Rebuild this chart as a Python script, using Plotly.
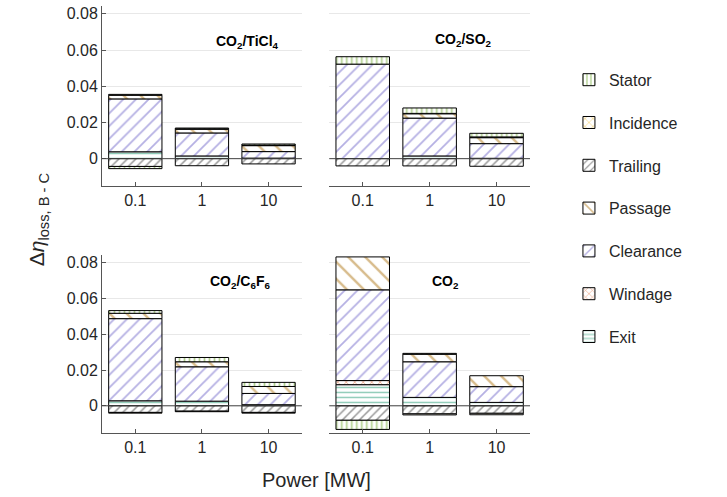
import plotly.graph_objects as go

# ---------------- data ----------------
fluids = ["CO<sub>2</sub>/TiCl<sub>4</sub>", "CO<sub>2</sub>/SO<sub>2</sub>",
          "CO<sub>2</sub>/C<sub>6</sub>F<sub>6</sub>", "CO<sub>2</sub>"]
powers = ["0.1", "1", "10"]

# loss components, one list per fluid (order of fluids above), values per power
exit_loss      = [[0.0038, 0.0015, 0.0003], [0.0, 0.0015, 0.0002],
                  [0.0028, 0.0026, 0.0006], [0.0118, 0.0047, 0.0019]]
windage_loss   = [[0.0, 0.0, 0.0], [0.0, 0.0, 0.0],
                  [0.0, 0.0, 0.0], [0.0023, 0.0, 0.0]]
clearance_loss = [[0.0292, 0.0127, 0.0036], [0.0522, 0.0209, 0.0081],
                  [0.0459, 0.0192, 0.0063], [0.0507, 0.0199, 0.0088]]
passage_loss   = [[0.0020, 0.0021, 0.0033], [0.0, 0.0024, 0.0033],
                  [0.0030, 0.0028, 0.0039], [0.0184, 0.0042, 0.0061]]
trailing_loss  = [[-0.0043, -0.0039, -0.0029], [-0.0040, -0.0040, -0.0042],
                  [-0.0037, -0.0030, -0.0037], [-0.0081, -0.0045, -0.0042]]
incidence_loss = [[0.0005, 0.0002, 0.0003], [0.0, 0.0002, 0.0004],
                  [-0.0004, -0.0003, -0.0004], [0.0, -0.0006, -0.0008]]
stator_loss    = [[-0.0012, 0.0004, 0.0006], [0.0041, 0.0030, 0.0020],
                  [0.0015, 0.0024, 0.0023], [-0.0051, 0.0005, 0.0]]

# stacking order (bottom -> top); legend shows reversed order
components = ["Exit", "Windage", "Clearance", "Passage", "Trailing", "Incidence", "Stator"]
comp_values = [exit_loss, windage_loss, clearance_loss, passage_loss,
               trailing_loss, incidence_loss, stator_loss]
comp_colors = ["#1f9a72", "#d95319", "#6c62c8", "#b07818", "#333333", "#e8a800", "#6aa527"]
comp_shapes = ["-", "x", "/", "\\", "/", "x", "|"]
comp_sizes = [5, 6, 9, 12, 6, 7, 5]
comp_solid = [0.3, 0.25, 0.2, 0.2, 0.25, 0.22, 0.35]

yticks = [0, 0.02, 0.04, 0.06, 0.08]
ytick_text = ["0", "0.02", "0.04", "0.06", "0.08"]

# ---------------- figure ----------------
FONT = "Liberation Sans, Arial, Helvetica, sans-serif"
TXT = "#262626"
fig = go.Figure()

xdomains = [[0.0, 0.467], [0.531, 1.0]]
ydomains = [[0.578, 1.0], [0.0, 0.417]]
positions = [(0, 0), (0, 1), (1, 0), (1, 1)]

for k, (r, c) in enumerate(positions):
    ax = "" if k == 0 else str(k + 1)
    for ci, name in enumerate(components):
        vals = [v if v != 0 else None for v in comp_values[ci][k]]
        fig.add_trace(go.Bar(
            x=powers, y=vals, name=name,
            xaxis="x" + ax, yaxis="y" + ax,
            legendgroup=name, showlegend=(k == 0),
            legendrank=len(components) - ci,
            width=0.8,
            marker=dict(color="white",
                        line=dict(color="black", width=1),
                        pattern=dict(shape=comp_shapes[ci], fgcolor=comp_colors[ci],
                                     bgcolor="white", size=comp_sizes[ci],
                                     solidity=comp_solid[ci])),
            hoverinfo="skip",
        ))
    xa = dict(domain=xdomains[c], anchor="y" + ax, type="category",
              range=[-0.5, 2.5], showline=True, linecolor="#555555", linewidth=1,
              ticks="inside", ticklen=4, tickcolor="#555555",
              tickfont=dict(size=16, color=TXT, family=FONT),
              showgrid=False, zeroline=False, fixedrange=True, automargin=False)
    ya = dict(domain=ydomains[r], anchor="x" + ax, range=[-0.0152, 0.0843],
              tickvals=yticks, ticktext=ytick_text,
              showgrid=True, gridcolor="#e8e8e8", gridwidth=1,
              zeroline=False, fixedrange=True, automargin=False,
              tickfont=dict(size=16, color=TXT, family=FONT))
    if c == 0:
        ya.update(showline=True, linecolor="#555555", linewidth=1,
                  ticks="inside", ticklen=4, tickcolor="#555555", showticklabels=True)
    else:
        ya.update(showline=False, ticks="", showticklabels=False)
    fig.layout["xaxis" + ax] = xa
    fig.layout["yaxis" + ax] = ya
    # zero reference line drawn over the bars
    fig.add_shape(type="line", xref="x" + ax + " domain", yref="y" + ax,
                  x0=0, x1=1, y0=0, y1=0, layer="above",
                  line=dict(color="#444444", width=1))

# subplot labels
label_pos = [(0.73, 0.80), (0.667, 0.81), (0.69, 0.85), (0.577, 0.85)]
for k, lab in enumerate(fluids):
    ax = "" if k == 0 else str(k + 1)
    fig.add_annotation(text="<b>" + lab + "</b>", xref="x" + ax + " domain",
                       yref="y" + ax + " domain", x=label_pos[k][0], y=label_pos[k][1],
                       xanchor="center", yanchor="middle",
                       showarrow=False, font=dict(size=14, color="black", family=FONT))

# axis titles
fig.add_annotation(text="Δ<i>η</i><sub>loss, B - C</sub>", xref="paper", yref="paper",
                   x=-0.150, y=0.50, textangle=-90, showarrow=False,
                   xanchor="center", yanchor="middle",
                   font=dict(size=21, color=TXT, family=FONT))
fig.add_annotation(text="Power [MW]", xref="paper", yref="paper",
                   x=0.5, y=-0.110, showarrow=False, xanchor="center", yanchor="middle",
                   font=dict(size=20, color=TXT, family=FONT))

fig.update_layout(
    width=727, height=497,
    margin=dict(l=102, r=197, t=6, b=64, autoexpand=False),
    barmode="relative", bargap=0.2,
    plot_bgcolor="white", paper_bgcolor="white",
    font=dict(family=FONT, color=TXT),
    legend=dict(x=1.091, y=0.867, xanchor="left", yanchor="top",
                traceorder="grouped", tracegroupgap=19,
                font=dict(size=16, color=TXT, family=FONT),
                bgcolor="rgba(0,0,0,0)"),
)

fig.write_html("out.html", config={"displayModeBar": False},
               post_script="document.body.style.margin='0';document.body.style.padding='0';")
